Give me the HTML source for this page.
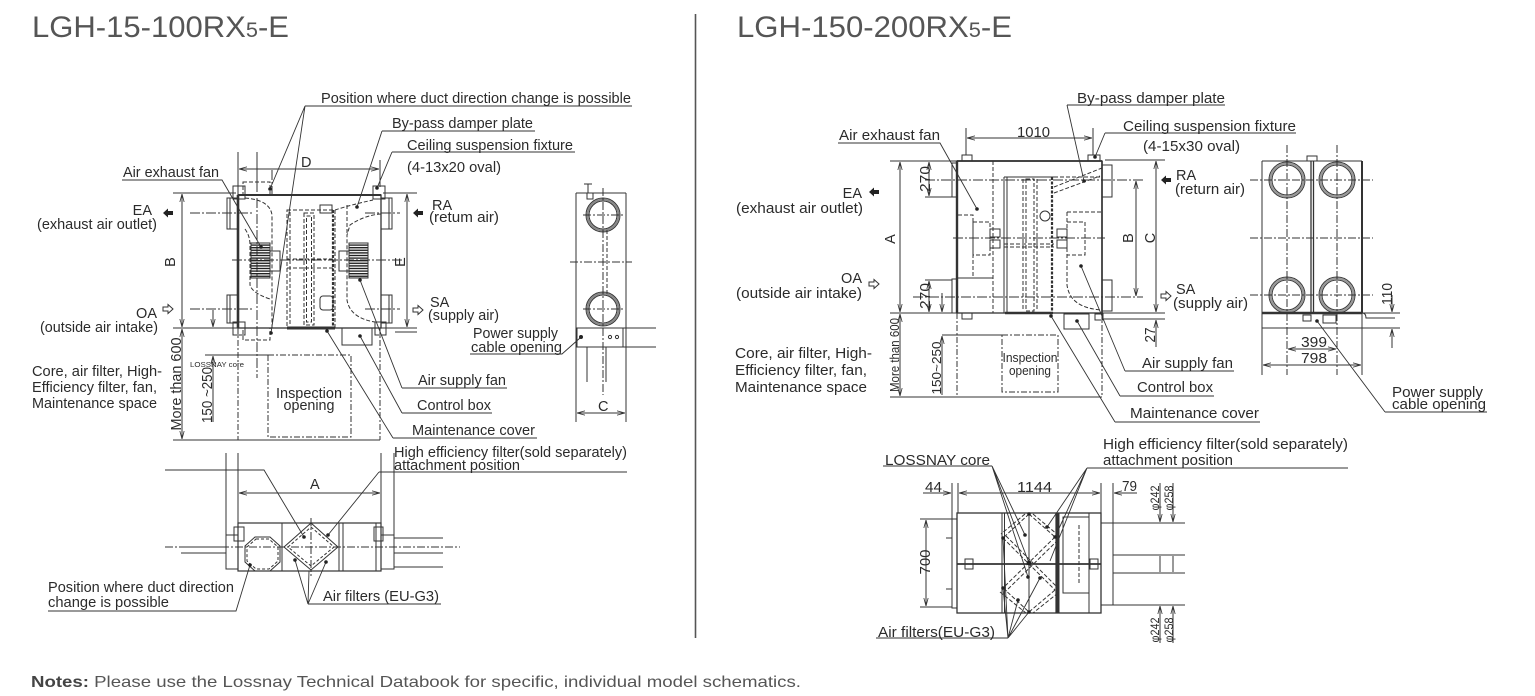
<!DOCTYPE html>
<html><head><meta charset="utf-8"><style>
html,body{margin:0;padding:0;background:#fff;}
svg{display:block;}
text{font-family:"Liberation Sans",Arial,sans-serif;fill:#2b2b2b;}
</style></head><body>
<svg width="1535" height="696" viewBox="0 0 1535 696" xmlns="http://www.w3.org/2000/svg">
<defs>
<marker id="ar" viewBox="0 0 10 6" refX="10" refY="3" markerWidth="8" markerHeight="5" orient="auto-start-reverse" markerUnits="userSpaceOnUse"><path d="M0,0.3 L10,3 L0,5.7" fill="none" stroke="#333" stroke-width="1"/></marker>
<pattern id="st" width="4" height="2.6" patternUnits="userSpaceOnUse"><rect width="4" height="1.4" fill="#222"/></pattern>
</defs>

<!-- Titles -->
<text x="32" y="37" font-size="30" fill="#555" textLength="257" lengthAdjust="spacingAndGlyphs" style="fill:#555">LGH-15-100RX<tspan font-size="21">5</tspan>-E</text>
<text x="737" y="37" font-size="30" textLength="275" lengthAdjust="spacingAndGlyphs" style="fill:#555">LGH-150-200RX<tspan font-size="21">5</tspan>-E</text>
<line x1="695.5" y1="14" x2="695.5" y2="638" stroke="#555" stroke-width="1.6"/>

<!-- Notes -->
<text x="31" y="687" font-size="16" textLength="770" lengthAdjust="spacingAndGlyphs" style="fill:#555"><tspan font-weight="bold" style="fill:#444">Notes:</tspan> Please use the Lossnay Technical Databook for specific, individual model schematics.</text>

<!-- ================= LEFT FRONT VIEW ================= -->
<g fill="none" stroke="#333" stroke-width="1">
<path d="M238 152V195 M257 152V182 M380 160V187"/>
<line x1="239" y1="169" x2="379" y2="169" marker-start="url(#ar)" marker-end="url(#ar)"/>
<path d="M173 193H236 M383 193H417 M173 328H417 M395 332H417 M173 440H380 M205 355H268"/>
<line x1="182" y1="194" x2="182" y2="327" marker-start="url(#ar)" marker-end="url(#ar)"/>
<line x1="182" y1="329" x2="182" y2="439" marker-start="url(#ar)" marker-end="url(#ar)"/>
<line x1="213" y1="310" x2="213" y2="327" marker-end="url(#ar)"/>
<line x1="213" y1="422" x2="213" y2="356" marker-end="url(#ar)"/>
<line x1="407" y1="194" x2="407" y2="327" marker-start="url(#ar)" marker-end="url(#ar)"/>
<!-- box -->
<rect x="238" y="195" width="143" height="133" stroke-width="1.3"/>
<path d="M238 195V328" stroke-width="2.6"/>
<path d="M238 195H381" stroke-width="2"/>
<path d="M287 328H335" stroke-width="3"/>
<!-- ducts -->
<rect x="227" y="198" width="11" height="31"/><rect x="227" y="295" width="11" height="28"/>
<rect x="381" y="198" width="11" height="31"/><rect x="381" y="295" width="11" height="28"/>
<path d="M230 198V229 M230 295V323 M389 198V229 M389 295V323"/>
<path d="M190 213H252 M365 213H400 M190 309H252 M365 309H400 M232 260H402 M257 182V378 M272 170V195" stroke-dasharray="10 2 2 2"/>
<!-- fixtures -->
<rect x="233" y="186" width="12" height="13"/><rect x="373" y="186" width="12" height="13"/>
<rect x="233" y="322" width="12" height="13"/><rect x="375" y="322" width="11" height="13"/>
<!-- interior dashed -->
<g stroke-dasharray="4 2">
<path d="M245 198 Q270 200 272 215 V328"/>
<path d="M245 229 Q250 236 250 245 V285 Q252 293 270 299"/>
<path d="M381 214 Q365 215 350 225 L347 235 V300 Q350 318 375 322"/>
<path d="M347 205 V235"/>
<rect x="287" y="210" width="48" height="118"/>
<path d="M290 212V326"/>
<rect x="304" y="213" width="10" height="112"/>
<rect x="306.5" y="216" width="5" height="106"/>
<path d="M287 259H335 M287 268H335"/>
<rect x="243" y="182" width="27" height="13"/>
<rect x="243" y="328" width="27" height="12"/>
<path d="M335 210 Q350 205 373 200"/>
</g>
<path d="M333 210V328" stroke-width="2.2" stroke-dasharray="3 1.5"/>
<rect x="320" y="205" width="12" height="8"/>
<!-- fans -->
<rect x="251" y="243" width="19" height="35" fill="url(#st)"/>
<rect x="270" y="251" width="10" height="20"/>
<rect x="349" y="243" width="19" height="35" fill="url(#st)"/>
<rect x="339" y="251" width="10" height="20"/>
<rect x="320" y="296" width="13" height="14" rx="3"/>
<!-- control box -->
<rect x="342" y="328" width="30" height="17"/>
<!-- inspection -->
<rect x="268" y="355" width="83" height="82" stroke-dasharray="6 2 2 2"/>
<path d="M238 328V440 M380 328V440" stroke-dasharray="6 2 2 2"/>
<!-- leaders -->
<path d="M305 106H632 M305 106L270 189 M305 106L271 333 M382 131H535 M382 131L357 207 M392 152H575 M392 152L377 188 M122 180H222 L261 247 M402 388H507 M402 388L360 280 M402 413H492 M402 413L360 336 M393 438H537 M393 438L327 331 M470 354H562 L580 338" stroke-width="0.9"/>
</g>
<g fill="#222">
<circle cx="270" cy="189" r="1.8"/><circle cx="271" cy="333" r="1.8"/><circle cx="357" cy="207" r="1.8"/><circle cx="377" cy="188" r="1.8"/><circle cx="261" cy="247" r="1.8"/><circle cx="360" cy="280" r="1.8"/><circle cx="360" cy="336" r="1.8"/><circle cx="327" cy="331" r="1.8"/>
<polygon points="163,213 168,208.5 168,211 173,211 173,215 168,215 168,217.5"/>
<polygon points="413,213 418,208.5 418,211 423,211 423,215 418,215 418,217.5"/>
</g>
<polygon points="173,309 168,304.5 168,307 163,307 163,311 168,311 168,313.5" fill="#fff" stroke="#333"/>
<polygon points="423,310 418,305.5 418,308 413,308 413,312 418,312 418,314.5" fill="#fff" stroke="#333"/>

<!-- left front texts -->
<g font-size="14.5">
<text x="321" y="103" textLength="310" lengthAdjust="spacingAndGlyphs">Position where duct direction change is possible</text>
<text x="392" y="128" textLength="141" lengthAdjust="spacingAndGlyphs">By-pass damper plate</text>
<text x="407" y="150" textLength="166" lengthAdjust="spacingAndGlyphs">Ceiling suspension fixture</text>
<text x="407" y="172" textLength="94" lengthAdjust="spacingAndGlyphs">(4-13x20 oval)</text>
<text x="123" y="177" textLength="96" lengthAdjust="spacingAndGlyphs">Air exhaust fan</text>
<text x="301" y="167">D</text>
<text x="152" y="215" text-anchor="end">EA</text>
<text x="37" y="229" textLength="120" lengthAdjust="spacingAndGlyphs">(exhaust air outlet)</text>
<text x="157" y="318" text-anchor="end">OA</text>
<text x="40" y="332" textLength="118" lengthAdjust="spacingAndGlyphs">(outside air intake)</text>
<text x="432" y="210">RA</text>
<text x="429" y="222" textLength="70" lengthAdjust="spacingAndGlyphs">(retum air)</text>
<text x="430" y="307">SA</text>
<text x="428" y="320" textLength="71" lengthAdjust="spacingAndGlyphs">(supply air)</text>
<text x="473" y="338" textLength="85" lengthAdjust="spacingAndGlyphs">Power supply</text>
<text x="471" y="352" textLength="91" lengthAdjust="spacingAndGlyphs">cable opening</text>
<text x="418" y="385" textLength="88" lengthAdjust="spacingAndGlyphs">Air supply fan</text>
<text x="417" y="410" textLength="74" lengthAdjust="spacingAndGlyphs">Control box</text>
<text x="412" y="435" textLength="123" lengthAdjust="spacingAndGlyphs">Maintenance cover</text>
<text x="32" y="376" textLength="130" lengthAdjust="spacingAndGlyphs">Core, air filter, High-</text>
<text x="32" y="392" textLength="125" lengthAdjust="spacingAndGlyphs">Efficiency filter, fan,</text>
<text x="32" y="408" textLength="125" lengthAdjust="spacingAndGlyphs">Maintenance space</text>
<text x="309" y="398" text-anchor="middle" textLength="66" lengthAdjust="spacingAndGlyphs">Inspection</text>
<text x="309" y="410" text-anchor="middle" textLength="51" lengthAdjust="spacingAndGlyphs">opening</text>
<text transform="translate(175,262) rotate(-90)" text-anchor="middle">B</text>
<text transform="translate(405,262) rotate(-90)" text-anchor="middle">E</text>
<text transform="translate(181,384) rotate(-90)" text-anchor="middle" textLength="93" lengthAdjust="spacingAndGlyphs">More than 600</text>
<text transform="translate(212,395) rotate(-90)" text-anchor="middle" textLength="56" lengthAdjust="spacingAndGlyphs">150 ~250</text>
<text x="598" y="411">C</text>
</g>
<text x="190" y="367" font-size="7.5" textLength="54" lengthAdjust="spacingAndGlyphs">LOSSNAY core</text>

<!-- ================= LEFT SIDE VIEW ================= -->
<g fill="none" stroke="#333" stroke-width="1">
<path d="M576 193V422 M626 193V422 M576 193H626 M588 184V193 M584 184H592"/>
<rect x="587" y="193" width="6" height="6"/>
<circle cx="603" cy="215" r="17"/><circle cx="603" cy="215" r="14"/><circle cx="603" cy="215" r="15.5" stroke="#888" stroke-width="2"/>
<circle cx="603" cy="309" r="17"/><circle cx="603" cy="309" r="14"/><circle cx="603" cy="309" r="15.5" stroke="#888" stroke-width="2"/>
<path d="M603 188V395 M570 262H632 M583 215H623 M583 309H623" stroke-dasharray="8 2 2 2"/>
<path d="M607 230V295" stroke-dasharray="4 2"/>
<rect x="577" y="328" width="46" height="19"/>
<path d="M623 328H656 M623 347H656 M587 347V382 M606 347V382"/>
<circle cx="610" cy="337" r="1.6"/><circle cx="617" cy="337" r="1.6"/>
<line x1="577" y1="413" x2="625" y2="413" marker-start="url(#ar)" marker-end="url(#ar)"/>
</g>
<circle cx="581" cy="337" r="2" fill="#222"/>

<!-- ================= LEFT BOTTOM VIEW ================= -->
<g fill="none" stroke="#333" stroke-width="1">
<path d="M226 453V535 M238 453V523 M381 453V523 M394 453V535"/>
<line x1="239" y1="493" x2="380" y2="493" marker-start="url(#ar)" marker-end="url(#ar)"/>
<rect x="238" y="523" width="143" height="48" stroke-width="1.2"/>
<path d="M282 523V571 M339 523V571 M343 523V571 M376 523V571"/>
<rect x="226" y="535" width="12" height="34"/><rect x="381" y="535" width="13" height="34"/>
<path d="M181 547H226 M181 553H226 M394 538H443 M394 553H443 M394 567H443"/>
<path d="M165 547H460 M311 518V576" stroke-dasharray="8 2 2 2"/>
<polygon points="255,537 270,537 280,546 280,562 270,571 255,571 245,562 245,546"/>
<polygon points="256,539 269,539 278,547 278,561 269,569 256,569 247,561 247,547" stroke-dasharray="3 2"/>
<polygon points="311,523 338,547 311,570 284,547"/>
<polygon points="311,527 334,547 311,566 288,547" stroke-dasharray="3 2"/>
<rect x="234" y="527" width="10" height="14"/><rect x="374" y="527" width="9" height="14"/>
<path d="M165 470H264 L304 537 M379 472H627 M379 472L328 535 M48 611H236 L250 565 M308 604H441 M308 604L295 560 M308 604L309 571 M308 604L326 562" stroke-width="0.9"/>
</g>
<g fill="#222">
<circle cx="304" cy="537" r="1.8"/><circle cx="328" cy="535" r="1.8"/><circle cx="250" cy="565" r="1.8"/><circle cx="295" cy="560" r="1.8"/><circle cx="326" cy="562" r="1.8"/>
</g>
<g font-size="14.5">
<text x="310" y="489">A</text>
<text x="394" y="457" textLength="233" lengthAdjust="spacingAndGlyphs">High efficiency filter(sold separately)</text>
<text x="394" y="470" textLength="126" lengthAdjust="spacingAndGlyphs">attachment position</text>
<text x="48" y="592" textLength="186" lengthAdjust="spacingAndGlyphs">Position where duct direction</text>
<text x="48" y="607" textLength="121" lengthAdjust="spacingAndGlyphs">change is possible</text>
<text x="323" y="601" textLength="116" lengthAdjust="spacingAndGlyphs">Air filters (EU-G3)</text>
</g>

<!-- ================= RIGHT FRONT VIEW ================= -->
<g fill="none" stroke="#333" stroke-width="1">
<path d="M966 128V155 M1093 128V155"/>
<line x1="967" y1="138" x2="1092" y2="138" marker-start="url(#ar)" marker-end="url(#ar)"/>
<path d="M890 161H957 M890 313H1165 M1102 319H1165 M1105 160H1165 M925 197H952 M925 280H952 M890 397H1102 M942 335H1002"/>
<line x1="900" y1="162" x2="900" y2="312" marker-start="url(#ar)" marker-end="url(#ar)"/>
<line x1="900" y1="314" x2="900" y2="396" marker-start="url(#ar)" marker-end="url(#ar)"/>
<line x1="929" y1="162" x2="929" y2="196" marker-start="url(#ar)" marker-end="url(#ar)"/>
<line x1="929" y1="281" x2="929" y2="312" marker-start="url(#ar)" marker-end="url(#ar)"/>
<line x1="942" y1="293" x2="942" y2="312" marker-end="url(#ar)"/>
<line x1="942" y1="395" x2="942" y2="336" marker-end="url(#ar)"/>
<line x1="1136" y1="181" x2="1136" y2="296" marker-start="url(#ar)" marker-end="url(#ar)"/>
<line x1="1156" y1="161" x2="1156" y2="312" marker-start="url(#ar)" marker-end="url(#ar)"/>
<line x1="1156" y1="347" x2="1156" y2="320" marker-end="url(#ar)"/>
<path d="M925 180H1143 M913 297H1143 M953 238H1105" stroke-dasharray="10 2 2 2"/>
<path d="M957 313V397 M1102 313V397" stroke-dasharray="6 2 2 2"/>
<rect x="1002" y="335" width="56" height="57" stroke-dasharray="6 2 2 2"/>
<!-- box -->
<rect x="957" y="161" width="145" height="152" stroke-width="1.3"/>
<path d="M957 161V313" stroke-width="2.4"/>
<path d="M957 161H1102" stroke-width="1.8"/>
<path d="M1102 161V313" stroke-width="1.6"/>
<path d="M1005 313H1053" stroke-width="2.6"/>
<rect x="952" y="163" width="5" height="34"/><rect x="952" y="279" width="5" height="34"/>
<rect x="1102" y="165" width="10" height="32"/><rect x="1102" y="280" width="10" height="31"/>
<rect x="962" y="155" width="10" height="6"/><rect x="1088" y="155" width="12" height="6"/>
<rect x="962" y="313" width="10" height="6"/><rect x="1095" y="314" width="8" height="6"/>
<rect x="1064" y="314" width="25" height="15"/>
<path d="M1004 177V313 M1007 177V313 M1004 177H1054 M957 278H993"/>
<g stroke-dasharray="4 2">
<path d="M993 161V313 M958 215H973V278 M1067 212H1102 M1067 212V285 Q1070 308 1102 310"/>
<rect x="1026" y="179" width="8" height="132"/>
<path d="M1023 179V311 M1037 179V311 M1004 247H1054 M1004 244H1054"/>
<path d="M1054 187L1102 168 M1054 193L1100 176 M1054 177H1102"/>
<rect x="973" y="222" width="17" height="33"/>
<rect x="1067" y="222" width="18" height="33"/>
</g>
<path d="M1052 177V313" stroke-width="2.2" stroke-dasharray="3 1.5"/>
<rect x="990" y="229" width="10" height="8"/><rect x="990" y="240" width="10" height="8"/>
<rect x="1057" y="229" width="10" height="8"/><rect x="1057" y="240" width="10" height="8"/>
<circle cx="1045" cy="216" r="5"/>
<!-- right side view -->
<path d="M1262 161V375 M1362 161V375"/>
<path d="M1362 161V313" stroke-width="2"/>
<path d="M1262 161H1362"/>
<path d="M1311 161V313 M1313.5 161V313" stroke-width="1.3"/>
<rect x="1307" y="156" width="10" height="5"/>
<g>
<circle cx="1287" cy="180" r="18"/><circle cx="1287" cy="180" r="15"/><circle cx="1287" cy="180" r="16.5" stroke="#999" stroke-width="2.2"/>
<circle cx="1337" cy="180" r="18"/><circle cx="1337" cy="180" r="15"/><circle cx="1337" cy="180" r="16.5" stroke="#999" stroke-width="2.2"/>
<circle cx="1287" cy="295" r="18"/><circle cx="1287" cy="295" r="15"/><circle cx="1287" cy="295" r="16.5" stroke="#999" stroke-width="2.2"/>
<circle cx="1337" cy="295" r="18"/><circle cx="1337" cy="295" r="15"/><circle cx="1337" cy="295" r="16.5" stroke="#999" stroke-width="2.2"/>
</g>
<path d="M1287 145V375 M1337 145V375 M1250 180H1373 M1250 238H1373 M1250 295H1373" stroke-dasharray="8 2 2 2"/>
<path d="M1262 313H1362" stroke-width="2.6"/>
<path d="M1262 328H1400 M1362 313H1400 M1362 313 Q1366 313 1366 318 H1395"/>
<rect x="1323" y="315" width="13" height="8"/>
<rect x="1303" y="315" width="8" height="6"/>
<line x1="1288" y1="349" x2="1336" y2="349" marker-start="url(#ar)" marker-end="url(#ar)"/>
<line x1="1263" y1="365" x2="1361" y2="365" marker-start="url(#ar)" marker-end="url(#ar)"/>
<line x1="1392" y1="295" x2="1392" y2="312" marker-end="url(#ar)"/>
<line x1="1392" y1="348" x2="1392" y2="329" marker-end="url(#ar)"/>
<!-- leaders -->
<path d="M838 143H940 L977 209 M1067 105H1225 M1067 105L1084 181 M1105 133H1296 M1105 133L1095 157 M1125 371H1234 M1125 371L1081 266 M1120 396H1214 M1120 396L1077 321 M1115 422H1260 M1115 422L1051 316 M1385 412H1487 M1385 412L1317 321" stroke-width="0.9"/>
</g>
<g fill="#222">
<circle cx="977" cy="209" r="1.8"/><circle cx="1084" cy="181" r="1.8"/><circle cx="1081" cy="266" r="1.8"/><circle cx="1077" cy="321" r="1.8"/><circle cx="1051" cy="316" r="1.8"/><circle cx="1095" cy="157" r="1.8"/><circle cx="1317" cy="321" r="1.8"/>
<polygon points="869,192 874,187.5 874,190 879,190 879,194 874,194 874,196.5"/>
<polygon points="1161,180 1166,175.5 1166,178 1171,178 1171,182 1166,182 1166,184.5"/>
</g>
<polygon points="879,284 874,279.5 874,282 869,282 869,286 874,286 874,288.5" fill="#fff" stroke="#333"/>
<polygon points="1171,296 1166,291.5 1166,294 1161,294 1161,298 1166,298 1166,300.5" fill="#fff" stroke="#333"/>

<g font-size="14.5">
<text x="1077" y="103" textLength="148" lengthAdjust="spacingAndGlyphs">By-pass damper plate</text>
<text x="1123" y="131" textLength="173" lengthAdjust="spacingAndGlyphs">Ceiling suspension fixture</text>
<text x="1143" y="151" textLength="97" lengthAdjust="spacingAndGlyphs">(4-15x30 oval)</text>
<text x="839" y="140" textLength="101" lengthAdjust="spacingAndGlyphs">Air exhaust fan</text>
<text x="1017" y="137" textLength="33" lengthAdjust="spacingAndGlyphs">1010</text>
<text x="862" y="198" text-anchor="end">EA</text>
<text x="736" y="213" textLength="127" lengthAdjust="spacingAndGlyphs">(exhaust air outlet)</text>
<text x="862" y="283" text-anchor="end">OA</text>
<text x="736" y="298" textLength="126" lengthAdjust="spacingAndGlyphs">(outside air intake)</text>
<text x="735" y="358" textLength="137" lengthAdjust="spacingAndGlyphs">Core, air filter, High-</text>
<text x="735" y="375" textLength="132" lengthAdjust="spacingAndGlyphs">Efficiency filter, fan,</text>
<text x="735" y="392" textLength="132" lengthAdjust="spacingAndGlyphs">Maintenance space</text>
<text x="1176" y="180">RA</text>
<text x="1175" y="194" textLength="70" lengthAdjust="spacingAndGlyphs">(return air)</text>
<text x="1176" y="294">SA</text>
<text x="1173" y="308" textLength="75" lengthAdjust="spacingAndGlyphs">(supply air)</text>
<text x="1142" y="368" textLength="91" lengthAdjust="spacingAndGlyphs">Air supply fan</text>
<text x="1137" y="392" textLength="76" lengthAdjust="spacingAndGlyphs">Control box</text>
<text x="1130" y="418" textLength="129" lengthAdjust="spacingAndGlyphs">Maintenance cover</text>
<text x="1314" y="347" text-anchor="middle" textLength="26" lengthAdjust="spacingAndGlyphs">399</text>
<text x="1314" y="363" text-anchor="middle" textLength="26" lengthAdjust="spacingAndGlyphs">798</text>
<text x="1392" y="397" textLength="91" lengthAdjust="spacingAndGlyphs">Power supply</text>
<text x="1392" y="409" textLength="94" lengthAdjust="spacingAndGlyphs">cable opening</text>
<text transform="translate(895,239) rotate(-90)" text-anchor="middle">A</text>
<text transform="translate(930,179) rotate(-90)" text-anchor="middle" textLength="26" lengthAdjust="spacingAndGlyphs">270</text>
<text transform="translate(930,296) rotate(-90)" text-anchor="middle" textLength="26" lengthAdjust="spacingAndGlyphs">270</text>
<text transform="translate(1133,238) rotate(-90)" text-anchor="middle">B</text>
<text transform="translate(1155,238) rotate(-90)" text-anchor="middle">C</text>
<text transform="translate(1155,335) rotate(-90)" text-anchor="middle" textLength="15" lengthAdjust="spacingAndGlyphs">27</text>
<text transform="translate(1392,294) rotate(-90)" text-anchor="middle" textLength="22" lengthAdjust="spacingAndGlyphs">110</text>
</g>
<g font-size="12.5">
<text transform="translate(899,355) rotate(-90)" text-anchor="middle" textLength="74" lengthAdjust="spacingAndGlyphs">More than 600</text>
<text transform="translate(941,368) rotate(-90)" text-anchor="middle" textLength="53" lengthAdjust="spacingAndGlyphs">150~250</text>
<text x="1030" y="362" text-anchor="middle" textLength="55" lengthAdjust="spacingAndGlyphs">Inspection</text>
<text x="1030" y="375" text-anchor="middle" textLength="42" lengthAdjust="spacingAndGlyphs">opening</text>
</g>

<!-- ================= RIGHT BOTTOM VIEW ================= -->
<g fill="none" stroke="#333" stroke-width="1">
<path d="M952 483V519 M958 483V513 M1101 483V513 M1113 483V523"/>
<line x1="923" y1="493" x2="951" y2="493" marker-end="url(#ar)"/>
<line x1="959" y1="493" x2="1100" y2="493" marker-start="url(#ar)" marker-end="url(#ar)"/>
<line x1="1137" y1="493" x2="1114" y2="493" marker-end="url(#ar)"/>
<path d="M920 519H952 M920 607H952"/>
<line x1="926" y1="520" x2="926" y2="606" marker-start="url(#ar)" marker-end="url(#ar)"/>
<rect x="957" y="513" width="144" height="100" stroke-width="1.3"/>
<rect x="952" y="519" width="5" height="89"/>
<path d="M946 538H952 M946 589H952"/>
<path d="M957 564H1101" stroke-width="1.8"/>
<path d="M1002 513V613 M1004.5 513V613 M1029 513V613 M1059 513V613 M1089 513V613"/>
<path d="M1057 513V613" stroke-width="3.2"/>
<rect x="1063" y="517" width="26" height="76"/>
<rect x="965" y="559" width="8" height="10"/><rect x="1090" y="559" width="8" height="10"/>
<g stroke-dasharray="4 2">
<path d="M1029 514L1055 537 M1029 514L1003 538 M1003 538L1055 590 M1055 537L1003 588 M1003 588L1029 612 M1055 590L1029 612"/>
<path d="M1033 514L1058 535 M1025 514L1001 534 M1006 536L1057 587 M1058 540L1006 591 M1000 592L1026 613 M1058 593L1033 613"/>
<path d="M1079 525V585" />
</g>
<rect x="1101" y="523" width="12" height="82"/>
<path d="M1113 523H1185 M1113 555H1185 M1113 573H1185 M1113 605H1185"/>
<line x1="1160" y1="483" x2="1160" y2="522" marker-end="url(#ar)"/>
<line x1="1173" y1="483" x2="1173" y2="522" marker-end="url(#ar)"/>
<line x1="1160" y1="643" x2="1160" y2="606" marker-end="url(#ar)"/>
<line x1="1173" y1="643" x2="1173" y2="606" marker-end="url(#ar)"/>
<path d="M1160 556V572 M1173 556V572"/>
<path d="M883 466H992 M992 466L1025 535 M992 466L1029 563 M992 466L1028 577 M1087 468H1348 M1087 468L1047 527 M1087 468L1055 537 M1087 468L1050 561 M876 638H1008 M1008 638L1003 538 M1008 638L1018 600 M1008 638L1029 612 M1008 638L1040 578 M1008 638L1003 588" stroke-width="0.9"/>
</g>
<g fill="#222">
<circle cx="1025" cy="535" r="1.8"/><circle cx="1029" cy="563" r="2.4"/><circle cx="1028" cy="577" r="1.8"/><circle cx="1047" cy="527" r="1.8"/><circle cx="1055" cy="537" r="1.8"/><circle cx="1003" cy="538" r="1.8"/><circle cx="1018" cy="600" r="1.8"/><circle cx="1029" cy="612" r="1.8"/><circle cx="1040" cy="578" r="1.8"/><circle cx="1003" cy="588" r="1.8"/><circle cx="1029" cy="514" r="1.8"/>
</g>
<g font-size="14.5">
<text x="885" y="465" textLength="105" lengthAdjust="spacingAndGlyphs">LOSSNAY core</text>
<text x="1103" y="449" textLength="245" lengthAdjust="spacingAndGlyphs">High efficiency filter(sold separately)</text>
<text x="1103" y="465" textLength="130" lengthAdjust="spacingAndGlyphs">attachment position</text>
<text x="878" y="637" textLength="117" lengthAdjust="spacingAndGlyphs">Air filters(EU-G3)</text>
<text x="925" y="492" textLength="17" lengthAdjust="spacingAndGlyphs">44</text>
<text x="1017" y="492" textLength="35" lengthAdjust="spacingAndGlyphs">1144</text>
<text x="1122" y="491" textLength="15" lengthAdjust="spacingAndGlyphs">79</text>
<text transform="translate(930,562) rotate(-90)" text-anchor="middle" textLength="25" lengthAdjust="spacingAndGlyphs">700</text>
</g>
<g font-size="12">
<text transform="translate(1159,498) rotate(-90)" text-anchor="middle" textLength="25" lengthAdjust="spacingAndGlyphs">φ242</text>
<text transform="translate(1173,498) rotate(-90)" text-anchor="middle" textLength="25" lengthAdjust="spacingAndGlyphs">φ258</text>
<text transform="translate(1159,630) rotate(-90)" text-anchor="middle" textLength="25" lengthAdjust="spacingAndGlyphs">φ242</text>
<text transform="translate(1173,630) rotate(-90)" text-anchor="middle" textLength="25" lengthAdjust="spacingAndGlyphs">φ258</text>
</g>
</svg>
</body></html>
